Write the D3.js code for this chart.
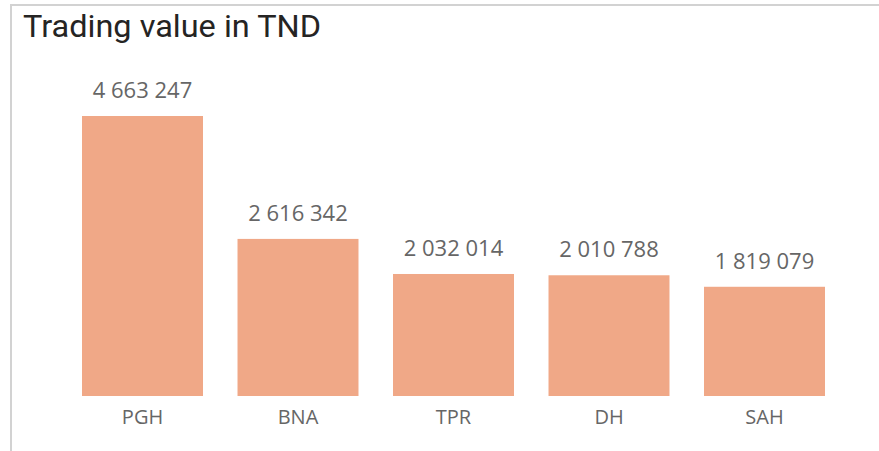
<!DOCTYPE html>
<html>
<head>
<meta charset="utf-8">
<script src="https://cdn.jsdelivr.net/npm/d3@7"></script>
<style>
  body { margin: 0; background: #fff; }
  svg { display: block; }
</style>
</head>
<body>
<svg id="chart" width="879" height="451"></svg>
<script>
// data
var tickers = ["PGH", "BNA", "TPR", "DH", "SAH"];
var tradingValues = [4663247, 2616342, 2032014, 2010788, 1819079];

var svg = d3.select("#chart"),
  width = +svg.attr("width"),
  height = +svg.attr("height");

// frame (top + left edge only)
svg.append("line")
  .attr("x1", 10).attr("x2", width)
  .attr("y1", 5).attr("y2", 5)
  .attr("stroke", "#d2d2d2").attr("stroke-width", 2);
svg.append("line")
  .attr("x1", 11).attr("x2", 11)
  .attr("y1", 4).attr("y2", height)
  .attr("stroke", "#d2d2d2").attr("stroke-width", 2);

var title = svg.append("text")
  .attr("x", 23)
  .attr("y", 37)
  .attr("font-family", "Roboto, sans-serif")
  .attr("font-weight", 400)
  .attr("font-size", "32px")
  .attr("fill", "#252423")
  .text("Trading value in TND");
// stretch to the measured width of the original title
var tw = title.node().getComputedTextLength();
if (Math.abs(tw - 298) > 4) title.attr("textLength", 298).attr("lengthAdjust", "spacingAndGlyphs");

var x = d3.scaleBand()
  .domain(tickers)
  .range([64.75, 842.25])
  .paddingInner(0.222)
  .paddingOuter(0.111);

var y = d3.scaleLinear()
  .domain([0, d3.max(tradingValues)])
  .range([396, 116]);

var fmt = function (v) { return d3.format(",")(v).replace(/,/g, " "); };

var rows = tickers.map(function (t, i) { return { name: t, value: tradingValues[i] }; });

var g = svg.append("g");

g.selectAll("rect.bar")
  .data(rows)
  .enter()
  .append("rect")
  .attr("class", "bar")
  .attr("x", function (d) { return x(d.name); })
  .attr("width", x.bandwidth())
  .attr("y", function (d) { return y(d.value); })
  .attr("height", function (d) { return y(0) - y(d.value); })
  .attr("fill", "#f0a887");

g.selectAll("text.val")
  .data(rows)
  .enter()
  .append("text")
  .attr("class", "val")
  .attr("x", function (d) { return x(d.name) + x.bandwidth() / 2; })
  .attr("y", function (d) { return y(d.value) - 18; })
  .attr("text-anchor", "middle")
  .attr("font-family", "'Open Sans', sans-serif")
  .attr("font-size", "22px")
  .attr("fill", "#666666")
  .text(function (d) { return fmt(d.value); });

// category axis, no line or ticks
var xAxis = svg.append("g")
  .attr("transform", "translate(0," + y(0) + ")")
  .call(d3.axisBottom(x).tickSize(0).tickPadding(28));
xAxis.select(".domain").remove();
xAxis.selectAll("text")
  .attr("dy", 0)
  .attr("font-family", "'Open Sans', sans-serif")
  .attr("font-size", "20px")
  .attr("fill", "#666666");
</script>
</body>
</html>
